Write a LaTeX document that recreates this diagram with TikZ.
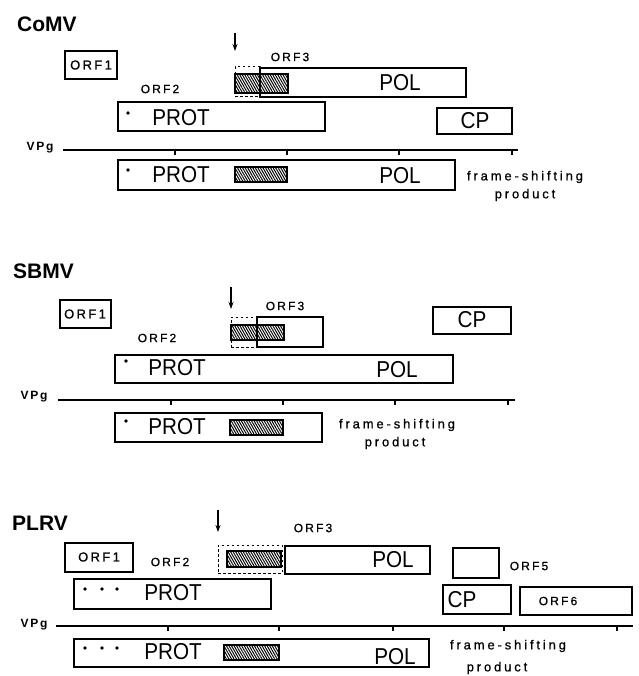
\documentclass[tikz,border=0pt]{standalone}
\usepackage{fontspec}
\setmainfont{Liberation Sans}
\newfontfamily\orffont[LetterSpace=18,FakeBold=0.8]{Liberation Sans}
\newfontfamily\fsfont[LetterSpace=22,FakeBold=0.8]{Liberation Sans}
\newfontfamily\bigfont[FakeStretch=0.9]{Liberation Sans}
\newfontfamily\vpgfont[LetterSpace=15]{Liberation Sans}
\usetikzlibrary{fit,patterns.meta,arrows.meta}
\tikzset{
  box/.style={draw, line width=1.1pt, inner sep=0pt},
  dbox/.style={draw, dashed, dash pattern=on 2.5pt off 2.5pt, line width=1pt, inner sep=0pt},
  hatch/.style={draw, line width=1.1pt, inner sep=0pt,
    pattern={Lines[angle=-60,distance=2.2pt,line width=1pt]}},
  big/.style={font=\bigfont\fontsize{23}{23}\selectfont, inner sep=0pt},
  orf/.style={font=\orffont\fontsize{12}{12}\selectfont, inner sep=0pt},
  orfin/.style={font=\orffont\fontsize{13}{13}\selectfont, inner sep=0pt},
  fs/.style={font=\fsfont\fontsize{13}{13}\selectfont, inner sep=0pt},
  title/.style={font=\bfseries\fontsize{21}{21}\selectfont, inner sep=0pt, anchor=base west},
  vpg/.style={font=\vpgfont\bfseries\fontsize{12}{12}\selectfont, inner sep=0pt},
  dot/.style={circle, fill, inner sep=0pt, minimum size=3.6pt},
  axis/.style={line width=1.5pt},
  tick/.style={line width=1.3pt},
  arr/.style={line width=1.4pt, -{Stealth[length=7pt,width=5pt]}},
}
\begin{document}
\begin{tikzpicture}[x=1pt,y=-1pt]
\useasboundingbox (0,0) rectangle (638,676);
% ================= CoMV =================
\node[title] (ct) at (17,32) {CoMV};
\node[box, fit={(65,51) (117,79)}] (corf1) {};
\node[orfin] (corf1t) at (91,65) {ORF1};
\coordinate (ca1) at (235,33);
\coordinate (ca2) at (235,51);
\draw[arr] (ca1) -- (ca2);
\node[orf] (corf3l) at (290,57) {ORF3};
\node[dbox, fit={(235,67) (260,97)}] (cdash) {};
\node[box, fit={(260,68) (466,97)}] (corf3) {};
\node[hatch, fit={(235,74) (288,93)}] (chatch1) {};
\node[big] (cpol1) at (400,83) {POL};
\node[orf] (corf2l) at (160,89) {ORF2};
\node[box, fit={(118,102) (325,131)}] (cprot) {};
\node[dot] (cdot1) at (128,113) {};
\node[big] (cprot1) at (181,118) {PROT};
\node[box, fit={(437,108) (512,134)}] (ccp) {};
\node[big] (ccpt) at (475,121) {CP};
\node[vpg] (cvpg) at (40,148) {VPg};
\coordinate (cl1) at (63,150);
\coordinate (cl2) at (518,150);
\draw[axis] (cl1) -- (cl2);
\foreach \t in {175,287,399,512} \draw[tick] (\t,150) -- (\t,155);
\node[box, fit={(118,160) (455,190)}] (cfs) {};
\node[dot] (cdot2) at (128,170) {};
\node[big] (cprot2) at (181,175) {PROT};
\node[hatch, fit={(235,167) (287,182)}] (chatch2) {};
\node[big] (cpol2) at (400,176) {POL};
\node[fs] (cfst) at (525,177) {frame-shifting};
\node[fs] (cfsp) at (525,195) {product};
% ================= SBMV =================
\node[title] (st) at (13,278) {SBMV};
\node[box, fit={(60,300) (111,328)}] (sorf1) {};
\node[orfin] (sorf1t) at (85,314) {ORF1};
\coordinate (sa1) at (231,287);
\coordinate (sa2) at (231,309);
\draw[arr] (sa1) -- (sa2);
\node[orf] (sorf3l) at (285,306) {ORF3};
\node[dbox, fit={(231,317) (257,347)}] (sdash) {};
\node[box, fit={(257,317) (323,347)}] (sorf3) {};
\node[hatch, fit={(231,325) (284,340)}] (shatch1) {};
\node[box, fit={(433,307) (511,334)}] (scp) {};
\node[big] (scpt) at (472,320) {CP};
\node[orf] (sorf2l) at (157,338) {ORF2};
\node[box, fit={(115,355) (453,383)}] (sprot) {};
\node[dot] (sdot1) at (126,361) {};
\node[big] (sprot1) at (177,368) {PROT};
\node[big] (spol1) at (397,370) {POL};
\node[vpg] (svpg) at (34,397) {VPg};
\coordinate (sl1) at (58,400);
\coordinate (sl2) at (515,400);
\draw[axis] (sl1) -- (sl2);
\foreach \t in {171,283,395,508} \draw[tick] (\t,400) -- (\t,405);
\node[box, fit={(115,413) (322,442)}] (sfs) {};
\node[dot] (sdot2) at (126,421) {};
\node[big] (sprot2) at (177,427) {PROT};
\node[hatch, fit={(230,420) (283,435)}] (shatch2) {};
\node[fs] (sfst) at (397,425) {frame-shifting};
\node[fs] (sfsp) at (395,443) {product};
% ================= PLRV =================
\node[title] (pt) at (12,530) {PLRV};
\coordinate (pa1) at (218,510);
\coordinate (pa2) at (218,532);
\draw[arr] (pa1) -- (pa2);
\node[orf] (porf3l) at (313,528) {ORF3};
\node[box, fit={(65,543) (133,572)}] (porf1) {};
\node[orfin] (porf1t) at (99,557) {ORF1};
\node[orf] (porf2l) at (170,562) {ORF2};
\node[dbox, fit={(218,545) (282,573)}] (pdash) {};
\node[hatch, fit={(227,551) (281,567)}] (phatch1) {};
\node[box, fit={(285,546) (430,574)}] (ppol) {};
\node[big] (ppol1) at (393,560) {POL};
\node[box, fit={(453,548) (499,578)}] (porf5) {};
\node[orf] (porf5l) at (529,566) {ORF5};
\node[box, fit={(443,585) (511,614)}] (pcp) {};
\node[big] (pcpt) at (462,600) {CP};
\node[box, fit={(520,587) (632,615)}] (porf6) {};
\node[orf] (porf6t) at (558,601) {ORF6};
\node[box, fit={(74,579) (271,609)}] (pprot) {};
\node[dot] (pd1) at (85,589) {};
\node[dot] (pd2) at (102,589) {};
\node[dot] (pd3) at (117,589) {};
\node[big] (pprot1) at (173,593) {PROT};
\node[vpg] (pvpg) at (34,625) {VPg};
\coordinate (pl1) at (56,626);
\coordinate (pl2) at (633,626);
\draw[axis] (pl1) -- (pl2);
\foreach \t in {168,279,393,504,617} \draw[tick] (\t,626) -- (\t,631);
\node[box, fit={(74,639) (429,667)}] (pfs) {};
\node[dot] (pd4) at (85,648) {};
\node[dot] (pd5) at (102,648) {};
\node[dot] (pd6) at (117,648) {};
\node[big] (pprot2) at (173,652) {PROT};
\node[hatch, fit={(224,645) (279,660)}] (phatch2) {};
\node[big] (ppol2) at (395,657) {POL};
\node[fs] (pfst) at (508,646) {frame-shifting};
\node[fs] (pfsp) at (497,668) {product};
\end{tikzpicture}
\end{document}
